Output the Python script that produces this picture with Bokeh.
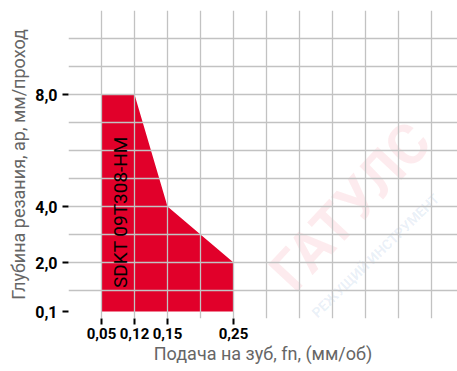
import numpy as np
from bokeh.plotting import figure
from bokeh.models import Range1d, FixedTicker, Label
from bokeh.embed import file_html
from bokeh.resources import INLINE

# --- data ---
feed_ticks = [0.05, 0.12, 0.15, 0.25]          # mm/tooth, labelled x ticks
feed_tick_labels = ["0,05", "0,12", "0,15", "0,25"]
depth_ticks = [0.1, 2.0, 4.0, 8.0]             # mm/pass, labelled y ticks
depth_tick_labels = ["0,1", "2,0", "4,0", "8,0"]

# application area outline (feed, depth)
area_feed = [0.05, 0.05, 0.12, 0.15, 0.20, 0.25, 0.25]
area_depth = [0.1, 8.0, 8.0, 4.0, 3.0, 2.0, 0.1]
insert_name = "SDKT 09T308-HM"

# axis scale (value -> grid position) of the nomogram
feed_anchor_val = [0.05, 0.12, 0.15, 0.25]
feed_anchor_pos = [1, 2, 3, 5]
depth_anchor_val = [0.1, 2.0, 4.0, 8.0]
depth_anchor_pos = [0.25, 2, 4, 8]


def fx(v):
    return [float(t) for t in np.interp(v, feed_anchor_val, feed_anchor_pos)]


def fy(v):
    return [float(t) for t in np.interp(v, depth_anchor_val, depth_anchor_pos)]


p = figure(width=457, height=371, output_backend="svg", toolbar_location=None,
           x_range=Range1d(0, 389 / 33), y_range=Range1d(0, 11),
           min_border_left=68, min_border_right=0, min_border_top=10,
           min_border_bottom=53)
p.outline_line_color = None
p.background_fill_color = "white"
p.border_fill_color = "white"

# watermarks
p.add_layout(Label(x=8.55, y=4.0, text="ГАТУЛС", angle=47, angle_units="deg",
                   text_align="center", text_baseline="middle",
                   text_font_size="56px", text_font="Roboto",
                   text_font_style="bold", text_color="#e1002a",
                   text_alpha=0.08, level="underlay"))
p.add_layout(Label(x=9.3, y=2.25, text="РЕЖУЩИЙ ИНСТРУМЕНТ", angle=44,
                   angle_units="deg", text_align="center",
                   text_baseline="middle",
                   text_font_size="14px", text_font="Roboto",
                   text_font_style="bold", text_color="#2a6db5",
                   text_alpha=0.1, level="underlay"))

p.patch(fx(area_feed), fy(area_depth), fill_color="#e1002a",
        line_color=None)

p.add_layout(Label(x=1.58, y=3.8, text=insert_name, angle=90,
                   angle_units="deg", text_align="center",
                   text_baseline="middle", text_font_size="19px",
                   text_font="Roboto", text_color="black"))

# grid
p.xgrid.ticker = FixedTicker(ticks=list(range(0, 12)))
p.ygrid.ticker = FixedTicker(ticks=list(range(0, 12)))
p.grid.grid_line_color = "#c2c2c2"
p.grid.grid_line_width = 1.3
p.grid.level = "glyph"

# axes
p.xaxis.ticker = FixedTicker(ticks=fx(feed_ticks))
p.xaxis.major_label_overrides = {k: v for k, v in zip(fx(feed_ticks), feed_tick_labels)}
p.yaxis.ticker = FixedTicker(ticks=fy(depth_ticks))
p.yaxis.major_label_overrides = {k: v for k, v in zip(fy(depth_ticks), depth_tick_labels)}

for ax in (p.xaxis, p.yaxis):
    ax.axis_line_color = None
    ax.minor_tick_line_color = None
    ax.major_tick_line_color = "black"
    ax.major_tick_line_width = 2
    ax.major_tick_out = 6
    ax.major_tick_in = 0
    ax.major_label_text_font = "Roboto"
    ax.major_label_text_font_style = "bold"
    ax.major_label_text_color = "black"
    ax.axis_label_text_font = "Roboto"
    ax.axis_label_text_font_style = "normal"
    ax.axis_label_text_font_size = "18px"
    ax.axis_label_text_color = "#666666"

p.xaxis.major_label_text_font_size = "15px"
p.xaxis.major_label_standoff = 3
p.xaxis.axis_label_standoff = 1
p.xaxis.axis_label = "Подача на зуб, fn, (мм/об)"

p.yaxis.major_label_text_font_size = "16px"
p.yaxis.major_label_standoff = 5
p.yaxis.axis_label_standoff = 3
p.yaxis.axis_label = "Глубина резания, ар, мм/проход"

open("out.html", "w").write(file_html(p, INLINE))
